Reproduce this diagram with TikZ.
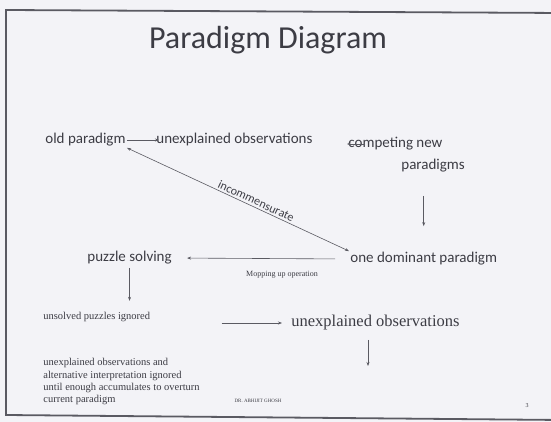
\documentclass[tikz,border=0pt]{standalone}
\usepackage{fontspec}
\setmainfont{Liberation Serif}
\newfontfamily\calibfont{Carlito}
\usetikzlibrary{arrows.meta,positioning}
\definecolor{paper}{HTML}{F3F3F7}
\definecolor{ink}{HTML}{3C3C44}
\definecolor{rule}{HTML}{5A5A62}

\begin{document}
\begin{tikzpicture}[x=1pt, y=-1pt, thick,
    main/.style = {font=\calibfont\fontsize{15}{18}\selectfont, text=ink, inner sep=1pt, anchor=west},
    times/.style = {font=\fontsize{10.5}{12.4}\selectfont, text=ink, inner sep=1pt, anchor=west, align=left},
    link/.style = {draw=rule, line width=0.6pt, -{Stealth[length=4pt, width=3pt]}}]
    \fill[paper] (0,0) rectangle (551,422);
    \useasboundingbox (0,0) rectangle (551,422);
    % slide frame
    \draw[rule, line width=1.8pt] (562,13) -- (6,10) -- (6,415) -- (562,420);
    \node[main, anchor=center, font=\calibfont\fontsize{32}{38}\selectfont] (0) at (268,40) {Paradigm Diagram};
    % upper part
    \node[main] (1) at (44,140) {old paradigm};
    \node[main] (2) at (155,140) {unexplained observations};
    \node[main] (3) at (347,144) {competing new};
    \node[main] (4) at (400,166) {paradigms};
    \node[main] (5) at (349,259) {one dominant paradigm};
    \node[main] (6) at (86,258) {puzzle solving};
    \node[times, anchor=center, font=\fontsize{8}{10}\selectfont] (7) at (282,275) {Mopping up operation};
    % lower part
    \node[times] (8) at (42,317) {unsolved puzzles ignored};
    \node[times, font=\fontsize{16.5}{20}\selectfont] (9) at (290,323) {unexplained observations};
    \node[times, anchor=north west] (10) at (42,357) {unexplained observations and\\alternative interpretation ignored\\until enough accumulates to overturn\\current paradigm};
    \coordinate (11) at (368,366);
    \node[text=ink, font=\fontsize{5}{6}\selectfont] (12) at (258,401) {DR. ABHIJIT GHOSH};
    \node[text=ink, font=\fontsize{6}{7}\selectfont] (13) at (527,406) {3};
    % connectors
    \draw (1.south east) [link, {Stealth[length=4pt, width=3pt]}-{Stealth[length=4pt, width=3pt]}] to node[main, anchor=south, sloped, above=1pt, pos=0.57, font=\calibfont\fontsize{12}{14}\selectfont] {incommensurate} (5.north west);
    \draw (1.east) [link] to ([xshift=4pt]2.west);
    \draw ([xshift=18pt]3.west) [link] to (3.west);
    \draw (4.south -| 5.north) [link, shorten <=22pt, shorten >=25pt] to (5.north);
    \draw (5.west) [link, shorten <=14pt, shorten >=14pt] to (6.east);
    \draw (6.south) [link, shorten <=2pt, shorten >=10pt] to (6.south |- 8.north);
    \draw (8.east |- 9.west) [link, shorten <=70pt, shorten >=8pt] to (9.west);
    \draw (9.south -| 11) [link, shorten <=8pt] to (11);
\end{tikzpicture}
\end{document}
